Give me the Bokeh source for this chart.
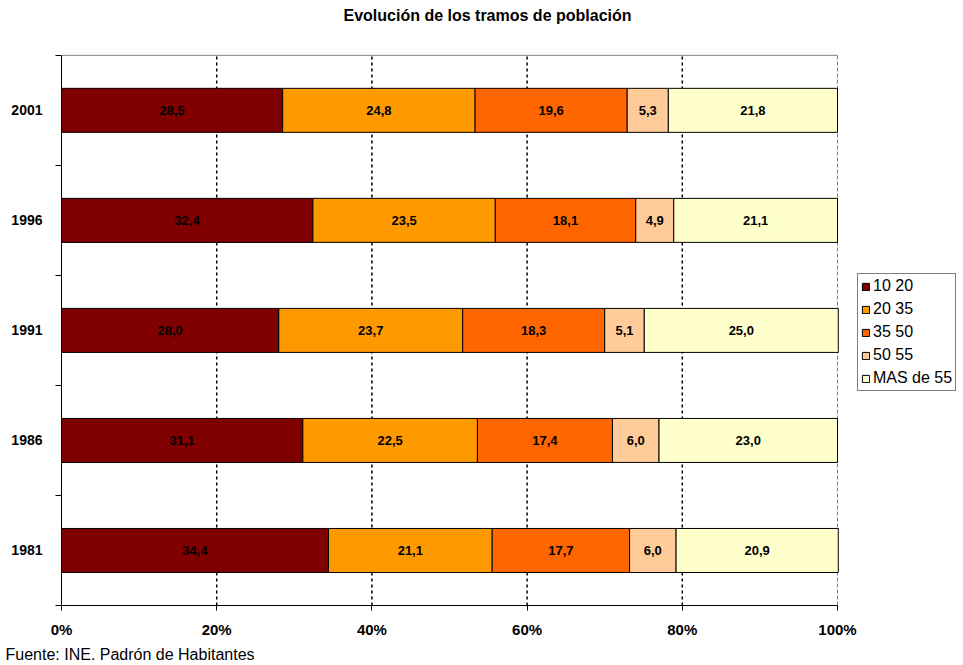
from bokeh.plotting import figure
from bokeh.models import (ColumnDataSource, Range1d, FixedTicker,
                          Title, Label, Legend, LegendItem)
from bokeh.core.properties import value
from bokeh.embed import file_html
from bokeh.resources import INLINE

FONT = "Liberation Sans"

# Census years, bottom to top
years = ["1981", "1986", "1991", "1996", "2001"]

# Share of population (%) in each age band
tramo_10_20 = [34.4, 31.1, 28.0, 32.4, 28.5]
tramo_20_35 = [21.1, 22.5, 23.7, 23.5, 24.8]
tramo_35_50 = [17.7, 17.4, 18.3, 18.1, 19.6]
tramo_50_55 = [6.0, 6.0, 5.1, 4.9, 5.3]
tramo_mas_55 = [20.9, 23.0, 25.0, 21.1, 21.8]

series_names = ["10 20", "20 35", "35 50", "50 55", "MAS de 55"]
series_values = [tramo_10_20, tramo_20_35, tramo_35_50, tramo_50_55, tramo_mas_55]
series_colors = ["#800000", "#FF9900", "#FF6600", "#FFCC99", "#FFFFCC"]

x_ticks = [0, 20, 40, 60, 80, 100]

# The bar area is 776 x 552 px; the frame reaches the right and top edges of
# the canvas so the legend and the heading can be drawn inside it.
PLOT_W, PLOT_H, LEFT, BOTTOM = 963, 665, 61, 58
BAR_W, BAR_H = 776, 552
n = len(years)
x_end = 100.0 * (PLOT_W - LEFT) / BAR_W
y_end = n * (PLOT_H - BOTTOM) / BAR_H

p = figure(width=PLOT_W, height=PLOT_H, output_backend="svg", toolbar_location=None,
           x_range=Range1d(0, x_end), y_range=Range1d(0, y_end),
           min_border_left=LEFT, min_border_right=0, min_border_top=0,
           min_border_bottom=BOTTOM)
p.outline_line_color = None
p.background_fill_color = "white"
p.border_fill_color = "white"
p.grid.visible = False

# Dotted vertical guides at the inner ticks
inner = x_ticks[1:-1]
p.segment(x0=inner, x1=inner, y0=[0] * len(inner), y1=[n] * len(inner),
          line_color="black", line_dash="3 3", line_width=1.5)
# right and top edges of the bar area
p.segment(x0=[100], x1=[100], y0=[0], y1=[n],
          line_color="#808080", line_dash="4 2", line_width=1)
p.segment(x0=[0], x1=[100], y0=[n], y1=[n], line_color="#808080", line_width=1)

ycenters = [i + 0.5 for i in range(n)]
left = [0.0] * n
items = []
for name, vals, color in zip(series_names, series_values, series_colors):
    right = [l + v for l, v in zip(left, vals)]
    src = ColumnDataSource(dict(
        y=ycenters, left=left, right=right,
        mid=[(l + r) / 2 for l, r in zip(left, right)],
        lab=[f"{v:.1f}".replace(".", ",") for v in vals],
    ))
    r = p.hbar(y="y", left="left", right="right", height=0.4, source=src,
               fill_color=color, line_color="black", line_width=1)
    p.text(x="mid", y="y", text="lab", source=src, text_align="center",
           text_baseline="middle", text_font=value(FONT), text_font_style="bold",
           text_font_size="13px", text_color="black")
    items.append(LegendItem(label=name, renderers=[r]))
    left = right

# X axis
xa = p.xaxis[0]
xa.ticker = FixedTicker(ticks=x_ticks)
xa.bounds = (0, 100)
xa.major_label_overrides = {t: f"{t}%" for t in x_ticks}
xa.major_tick_out = 5
xa.major_tick_in = 0
xa.minor_tick_out = 0
xa.minor_tick_in = 0
xa.axis_line_color = "black"
xa.major_tick_line_color = "black"
xa.major_label_text_font = FONT
xa.major_label_text_font_style = "bold"
xa.major_label_text_font_size = "15px"
xa.major_label_text_color = "black"
xa.major_label_standoff = 10

# Y axis: labels centred on bars, tick marks between categories
ya = p.yaxis[0]
ya.ticker = FixedTicker(ticks=ycenters, minor_ticks=list(range(n + 1)))
ya.bounds = (0, n)
ya.major_label_overrides = {c: y for c, y in zip(ycenters, years)}
ya.major_tick_out = 0
ya.major_tick_in = 0
ya.minor_tick_out = 6
ya.minor_tick_in = 0
ya.minor_tick_line_color = "black"
ya.axis_line_color = "black"
ya.major_label_text_font = FONT
ya.major_label_text_font_style = "bold"
ya.major_label_text_font_size = "14px"
ya.major_label_text_color = "black"
ya.major_label_standoff = 13

legend = Legend(items=items, location=(796, 214))
legend.label_text_font = FONT
legend.label_text_font_size = "16px"
legend.label_text_color = "black"
legend.glyph_width = 9
legend.glyph_height = 9
legend.label_height = 18
legend.label_standoff = 3
legend.spacing = 5
legend.padding = 3
legend.margin = 0
legend.border_line_color = "black"
legend.border_line_width = 1
legend.background_fill_color = "white"
p.add_layout(legend, "center")

p.add_layout(Label(x=426, y=PLOT_H - BOTTOM - 17, x_units="screen", y_units="screen",
                   text="Evolución de los tramos de población", text_align="center",
                   text_baseline="middle", text_font=FONT, text_font_style="bold",
                   text_font_size="16px", text_color="black"))
p.add_layout(Title(text="Fuente: INE. Padrón de Habitantes", align="left",
                   offset=-56, standoff=6, text_font=FONT, text_font_style="normal",
                   text_font_size="16px", text_color="black"), "below")

open("out.html", "w").write(file_html(p, INLINE))
